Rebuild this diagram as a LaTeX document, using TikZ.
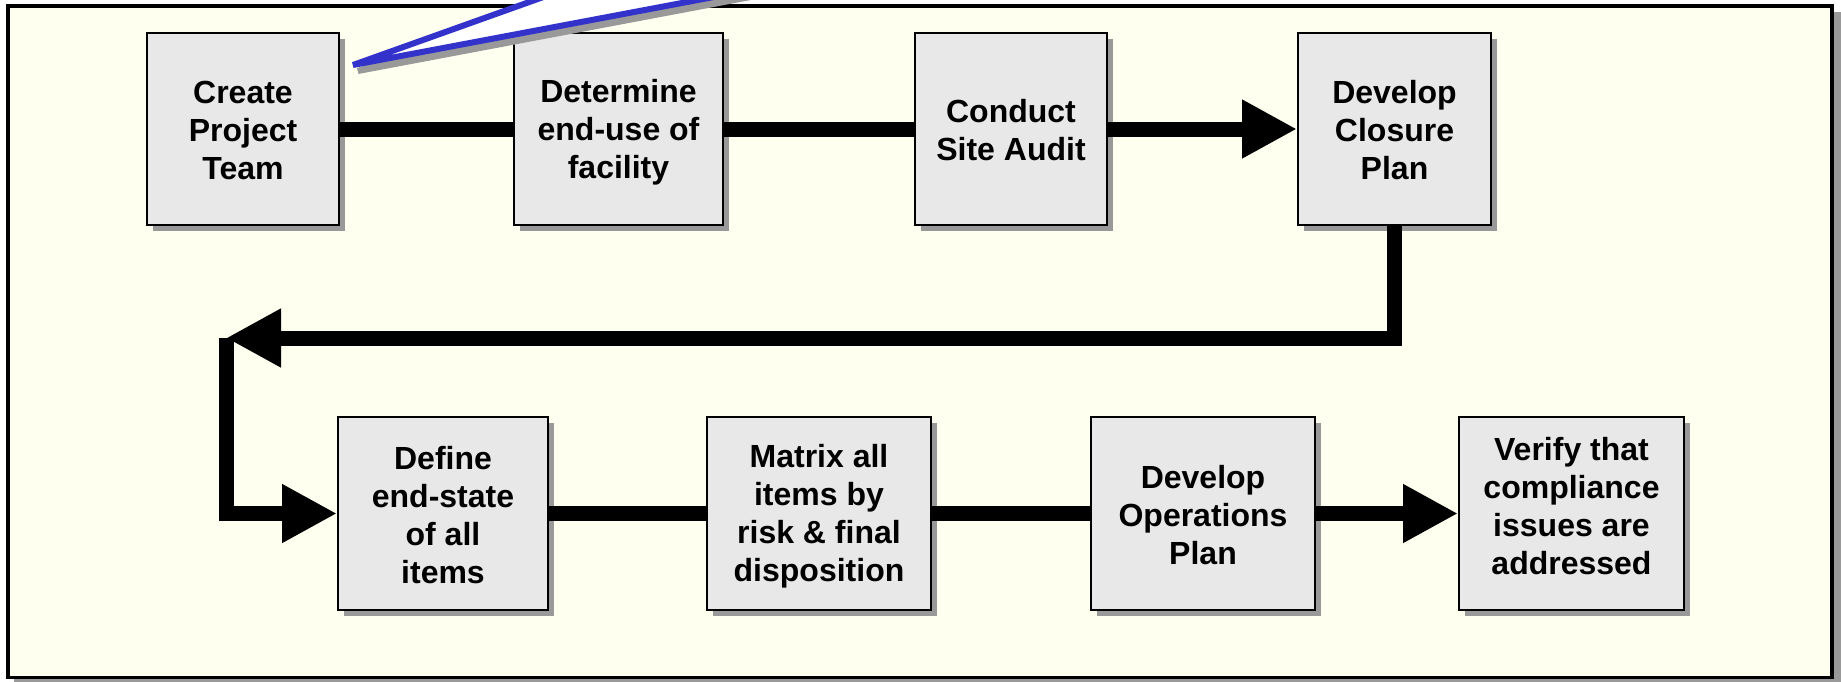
\documentclass[tikz,border=0pt]{standalone}
\usepackage{fontspec}
\setmainfont{Liberation Sans}
\usetikzlibrary{arrows.meta,shadows}
\definecolor{pagecream}{HTML}{FFFFF0}
\definecolor{boxgray}{HTML}{E8E8E8}
\definecolor{shadowgray}{HTML}{999999}
\definecolor{calloutblue}{HTML}{3333CC}

% fixed height above the first line and depth below the last line,
% so every label sits at the same place whatever its letters
\newcommand{\headstrut}[1][14.5pt]{\rule{0pt}{#1}}
\newcommand{\footstrut}[1][1.9pt]{\rule[-#1]{0pt}{0pt}}

\begin{document}
\begin{tikzpicture}[x=0.5pt,y=-0.5pt,
  stepbox/.style={draw=black, line width=1pt, fill=boxgray, inner sep=0pt,
    align=center, font=\fontsize{16pt}{19pt}\selectfont\bfseries,
    drop shadow={shadow xshift=3pt, shadow yshift=-3pt, fill=shadowgray, opacity=1}},
  toprow/.style={stepbox, minimum height=96pt},
  botrow/.style={stepbox, minimum height=96.5pt},
  link/.style={line width=7.5pt, black, line join=miter},
  flow/.style={link, -{Triangle[length=27.5pt,width=27.5pt]}},
]
\useasboundingbox (0,0) rectangle (1841,681);

% outer frame with its shadow
\fill[shadowgray] (14,12) rectangle (1841,683);
\draw[line width=1.75pt, fill=pagecream] (8,6) rectangle (1832,677.5);

% process steps
\node[toprow, minimum width=96pt]    (create)    at (243,129)
  {\headstrut Create\\Project\\Team\footstrut};
\node[toprow, minimum width=104.5pt] (determine) at (618.5,129)
  {\headstrut Determine\\end-use of\\facility\footstrut};
\node[toprow, minimum width=96pt]    (conduct)   at (1011,129)
  {\headstrut Conduct\\Site Audit\footstrut};
\node[toprow, minimum width=96.5pt]  (closure)   at (1394.5,129)
  {\headstrut Develop\\Closure\\Plan\footstrut};

\node[botrow, minimum width=105pt]   (define)    at (443,513.5)
  {\headstrut Define\\end-state\\of all\\items\footstrut};
\node[botrow, minimum width=112pt]   (matrix)    at (819,513.5)
  {\headstrut Matrix all\\items by\\risk \& final\\disposition\footstrut};
\node[botrow, minimum width=112pt]   (devops)    at (1203,513.5)
  {\headstrut Develop\\Operations\\Plan\footstrut};
\node[botrow, minimum width=112.5pt] (verify)    at (1571.5,513.5)
  {\headstrut[12pt]Verify that\\compliance\\issues are\\addressed\footstrut[8.4pt]};

% connectors
\coordinate (turn) at (226,338);
\draw[link] (create) -- (determine);
\draw[link] (determine) -- (conduct);
\draw[flow] (conduct) -- (closure);
\draw[flow] (closure.south) |- (turn);
\draw[flow] (turn) |- (define.west);
\draw[link] (define) -- (matrix);
\draw[link] (matrix) -- (devops);
\draw[flow] (devops) -- (verify);

% callout pointer coming in from above
\begin{scope}
  \clip (0,0) rectangle (1841,681);
  \filldraw[shadowgray, line width=3pt, line join=bevel, shift={(5,6)}]
    (703,-60) -- (353,65) -- (1016,-60) -- cycle;
  \filldraw[draw=calloutblue, fill=white, line width=3pt, line join=bevel]
    (703,-60) -- (353,65) -- (1016,-60) -- cycle;
\end{scope}
\end{tikzpicture}
\end{document}
